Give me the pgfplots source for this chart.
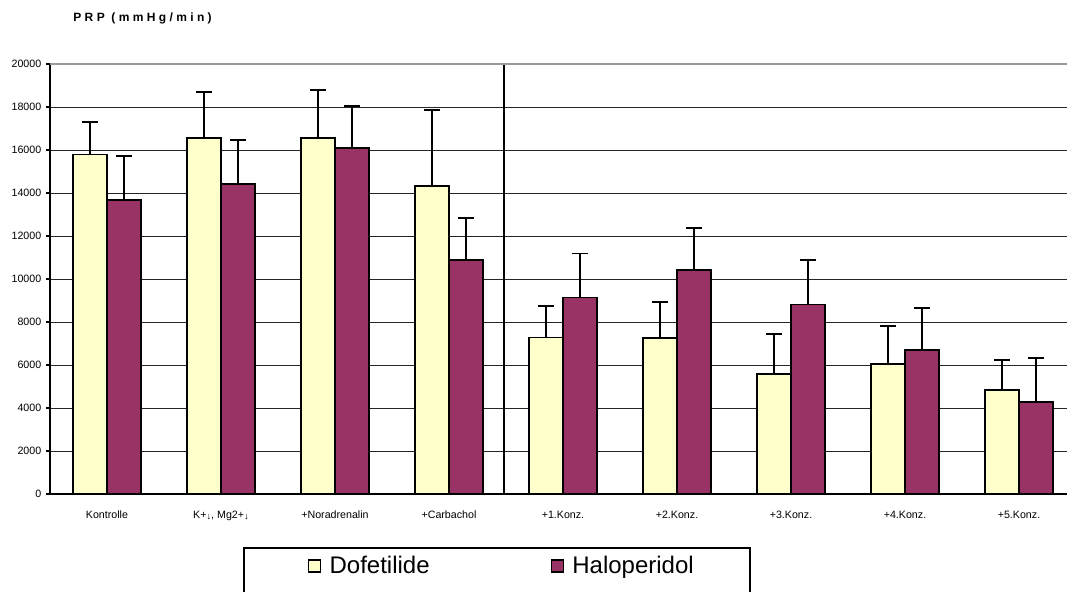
\documentclass[border=0pt]{standalone}
\usepackage{fontspec}
\setmainfont{Liberation Sans}
\usepackage{pgfplots}
\usepackage{pgfplotstable}
\pgfplotsset{compat=1.18}
\definecolor{dofe}{HTML}{FFFFCC}
\definecolor{halo}{HTML}{993366}

% PRP (mean, SD) per condition; x = category index
\pgfplotstableread{
x y e
0 15800 1500
1 16550 2150
2 16550 2240
3 14330 3530
4 7280 1480
5 7260 1660
6 5580 1850
7 6040 1760
8 4830 1400
}\dofetilide

\pgfplotstableread{
x y e
0 13680 2050
1 14420 2050
2 16090 1950
3 10890 1950
4 9130 2060
5 10420 1950
6 8820 2060
7 6690 1950
8 4270 2040
}\haloperidol

\pgfplotsset{
  sdbars/.style={
    error bars/.cd, y dir=plus, y explicit,
    error mark=|,
    error bar style={black, solid, line width=1.35pt},
    error mark options={black, solid, line width=1.35pt, mark size=6pt}},
}

\begin{document}
\begin{tikzpicture}
\useasboundingbox (-37.5pt,-73.5pt) rectangle (762.75pt,370.5pt);
\begin{axis}[
  at={(0pt,0pt)}, anchor=south west,
  scale only axis, width=762.75pt, height=322.5pt,
  xmin=-0.5, xmax=8.421, ymin=0, ymax=20000,
  axis x line*=bottom, axis y line*=left,
  axis line style={-, black, line width=0.9pt},
  ytick={0,2000,...,20000},
  ymajorgrids, grid style={black!85, line width=0.7pt},
  tick align=outside,
  major tick length=3pt,
  tick style={black, line width=0.8pt},
  scaled y ticks=false,
  /pgf/number format/.cd, set thousands separator={}, assume math mode=true,
  /pgfplots/.cd,
  ticklabel style={font=\fontsize{8}{9}\selectfont},
  xtick={0,...,8},
  xticklabels={Kontrolle, {K+\raisebox{-0.15em}{\scriptsize ↓}, Mg2+\raisebox{-0.15em}{\scriptsize ↓}}, +Noradrenalin, +Carbachol,
               +1.Konz., +2.Konz., +3.Konz., +4.Konz., +5.Konz.},
  x tick style={draw=none},
  xticklabel style={yshift=-6pt},
  extra x ticks={-0.5,0.5,...,7.5},
  extra x tick labels={},
  extra x tick style={grid=none, major tick length=3.75pt, tick style={draw=black, line width=0.8pt}},
  legend columns=2,
  legend style={at={(0.2537,-0.1674)}, anchor=west, draw=none, fill=none,
    inner sep=0pt, font=\fontsize{18}{20}\selectfont,
    /tikz/every even column/.append style={column sep=89pt}},
]
\addplot[ybar, bar width=0.3, bar shift=0, fill=dofe, draw=black, line width=1.1pt,
  legend image code/.code={\draw[fill=dofe, draw=black, line width=0.9pt] (0pt,-4.5pt) rectangle (9pt,4.5pt); \path (13pt,0pt);},
  sdbars]
  table[x expr=\thisrow{x}-0.15, y=y, y error=e]{\dofetilide};
\addlegendentry{Dofetilide}
\addplot[ybar, bar width=0.3, bar shift=0, fill=halo, draw=black, line width=1.1pt,
  legend image code/.code={\draw[fill=halo, draw=black, line width=0.9pt] (0pt,-4.5pt) rectangle (9pt,4.5pt); \path (13pt,0pt);},
  sdbars]
  table[x expr=\thisrow{x}+0.15, y=y, y error=e]{\haloperidol};
\addlegendentry{Haloperidol}
% separator between baseline conditions and concentration steps
\draw[black, line width=1.6pt] (axis cs:3.482,-150) -- (axis cs:3.482,20000);
% top border
\draw[black!40, line width=1.5pt] (rel axis cs:0,1) -- (rel axis cs:1,1);
\end{axis}
\node[anchor=west, font=\bfseries\fontsize{9}{10}\selectfont\addfontfeature{LetterSpace=28}] at (14pt,357pt) {PRP (mmHg/min)};
\draw[black, line width=0.8pt] (145.5pt,-40.5pt) rectangle (525pt,-90pt);
\end{tikzpicture}
\end{document}
